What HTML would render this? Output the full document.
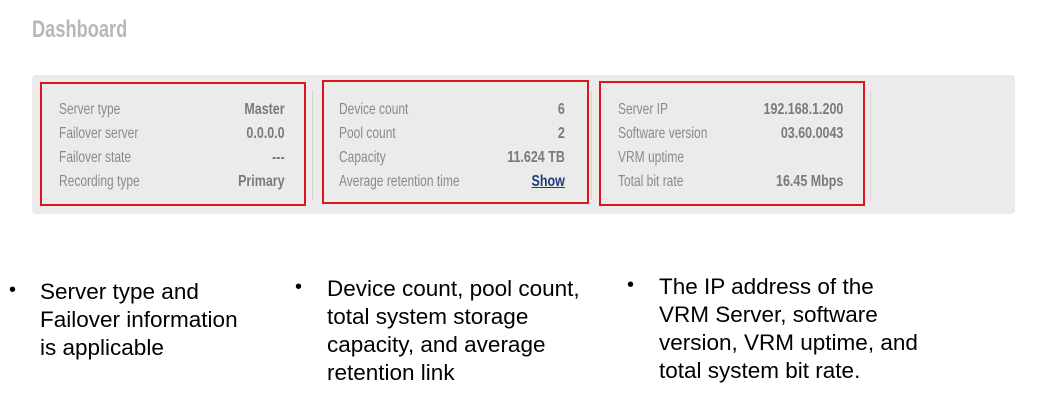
<!DOCTYPE html>
<html><head><style>
body{margin:0;width:1037px;height:412px;background:#fff;position:relative;overflow:hidden;font-family:"Liberation Sans",Arial,sans-serif}
.a{position:absolute}
.t{position:absolute;font-size:24px;font-weight:bold;color:#b8b8b8;left:32px;top:16px;transform:scaleX(.76);transform-origin:left}
.panel{left:32px;top:75px;width:983px;height:139px;background:#ebebeb;border-radius:4px}
.box{position:absolute;border:2px solid #e0141e;box-sizing:border-box}
.row{position:absolute;font-size:16px;color:#8a8a8a;white-space:nowrap}
.lab{transform:scaleX(.75);transform-origin:left}
.val{transform:scaleX(.78);transform-origin:right;text-align:right;font-weight:bold;color:#7a7a7a}
.sep{position:absolute;width:1px;background:#d4d4d4;top:90px;height:110px}
.b{position:absolute;font-size:22.5px;line-height:28px;color:#000}
.dot{position:absolute;font-size:20px}
</style></head><body>
<div class="t">Dashboard</div>
<div class="a panel"></div>
<div class="sep" style="left:312px"></div><div class="sep" style="left:591px"></div><div class="sep" style="left:870px"></div>
<div class="box" style="left:40px;top:82px;width:266px;height:124px"></div>
<div class="box" style="left:322px;top:80px;width:267px;height:124px"></div>
<div class="box" style="left:599px;top:81px;width:266px;height:125px"></div>

<div class="row lab" style="left:59px;top:98px;line-height:24px">Server type<br>Failover server<br>Failover state<br>Recording type</div>
<div class="row val" style="right:752px;top:98px;line-height:24px">Master<br>0.0.0.0<br>---<br>Primary</div>

<div class="row lab" style="left:339px;top:98px;line-height:24px">Device count<br>Pool count<br>Capacity<br>Average retention time</div>
<div class="row val" style="right:472px;top:98px;line-height:24px">6<br>2<br>11.624 TB<br><span style="color:#1a3d7a;text-decoration:underline">Show</span></div>

<div class="row lab" style="left:618px;top:98px;line-height:24px">Server IP<br>Software version<br>VRM uptime<br>Total bit rate</div>
<div class="row val" style="right:194px;top:98px;line-height:24px">192.168.1.200<br>03.60.0043<br>&nbsp;<br>16.45 Mbps</div>

<div class="dot" style="left:9px;top:279px">•</div>
<div class="b" style="left:40px;top:278px">Server type and<br>Failover information<br>is applicable</div>
<div class="dot" style="left:295px;top:276px">•</div>
<div class="b" style="left:327px;top:275px">Device count, pool count,<br>total system storage<br>capacity, and average<br>retention link</div>
<div class="dot" style="left:627px;top:274px">•</div>
<div class="b" style="left:659px;top:273px">The IP address of the<br>VRM Server, software<br>version, VRM uptime, and<br>total system bit rate.</div>
</body></html>
